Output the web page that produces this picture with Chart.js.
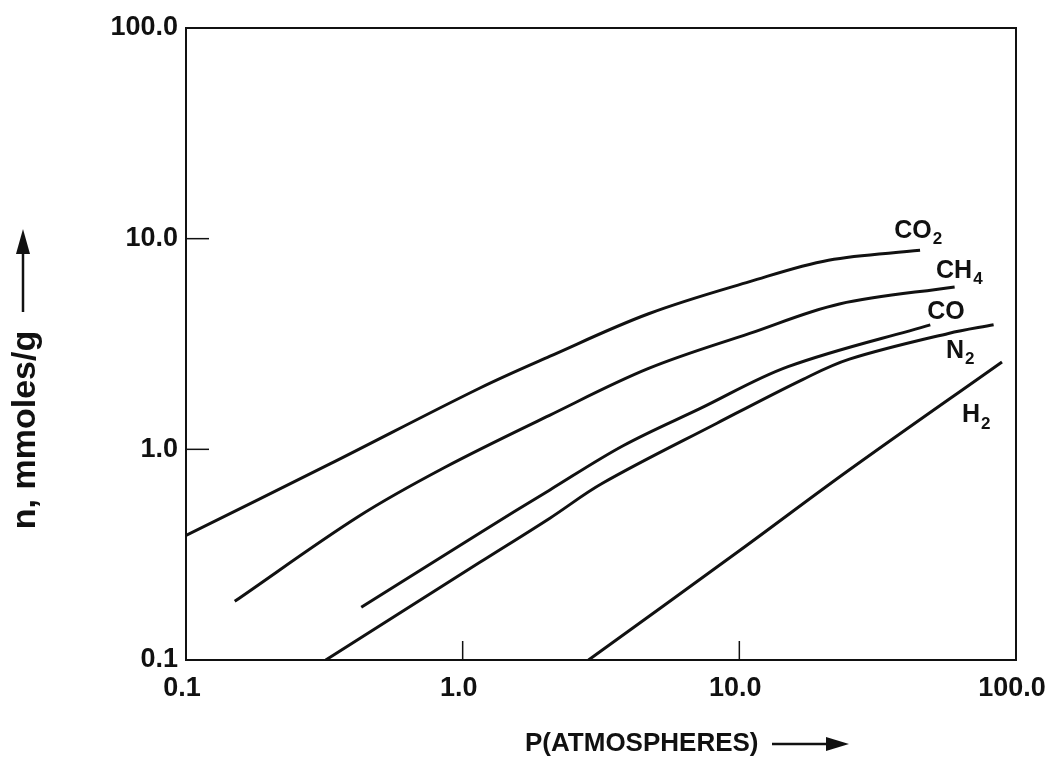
<!DOCTYPE html>
<html>
<head>
<meta charset="utf-8">
<script src="https://cdn.jsdelivr.net/npm/chart.js@4/dist/chart.umd.min.js"></script>
<style>
    body { margin: 0; background: #fff; }
    #wrap { width: 1048px; height: 757px; }
</style>
</head>
<body>
<div id="wrap"><canvas id="chart-area" width="1048" height="757"></canvas></div>
<script>
// tick values / labels
var xTicks = [0.1, 1, 10, 100];
var xTickLabels = ['0.1', '1.0', '10.0', '100.0'];
var yTicks = [0.1, 1, 10, 100];
var yTickLabels = ['0.1', '1.0', '10.0', '100.0'];

// isotherms (P in atm, n in mmoles/g)
var co2P = [0.1, 0.33, 1.15, 2.06, 4.7, 10.9, 21, 45];
var co2N = [0.39, 0.85, 1.95, 2.76, 4.4, 6.25, 7.9, 8.8];
var ch4P = [0.15, 0.42, 0.86, 2.06, 4.7, 10.9, 23, 60];
var ch4N = [0.19, 0.48, 0.82, 1.45, 2.42, 3.55, 4.9, 5.9];
var coP = [0.43, 1.15, 2.06, 3.8, 7.2, 15, 49];
var coN = [0.178, 0.40, 0.64, 1.04, 1.56, 2.47, 3.9];
var n2P = [0.32, 1.15, 2.06, 3.2, 8.3, 17, 25, 57, 83];
var n2N = [0.1, 0.29, 0.47, 0.69, 1.33, 2.15, 2.68, 3.55, 3.9];
var h2P = [2.85, 10, 25, 89];
var h2N = [0.1, 0.33, 0.8, 2.6];

// curve names: main part, subscript, and where the name sits (P, n)
var gasNames = ['CO', 'CH', 'CO', 'N', 'H'];
var gasSubs = ['2', '4', '', '2', '2'];
var nameP = [36.3, 51.4, 47.8, 55.8, 63.8];
var nameN = [10.9, 7.05, 4.46, 2.94, 1.45];

var ink = '#111';
var fontFam = '"Liberation Sans", Arial, Helvetica, sans-serif';

var toPoints = function(xs, ys) {
    var pts = [];
    for(var i = 0; i < xs.length; i++) {
        pts.push({x: xs[i], y: ys[i]});
    }
    return pts;
};

var makeSet = function(label, xs, ys) {
    return {
        label: label,
        data: toPoints(xs, ys),
        borderColor: ink,
        borderWidth: 3,
        pointRadius: 0,
        fill: false,
        tension: 0.35
    };
};

// frame, inner ticks, curve names and axis titles with arrows
var decorPlugin = {
    id: 'decor',
    afterDraw: function(chart) {
        var ctx = chart.ctx,
            xs = chart.scales.x,
            ys = chart.scales.y,
            area = chart.chartArea;

        ctx.save();
        ctx.strokeStyle = ink;
        ctx.lineWidth = 2;
        ctx.beginPath();
        ctx.moveTo(area.left, area.top);
        ctx.lineTo(area.right, area.top);
        ctx.lineTo(area.right, area.bottom);
        ctx.stroke();

        // short inward ticks at the inner decades
        ctx.lineWidth = 1.5;
        [1, 10].forEach(function(v) {
            var px = xs.getPixelForValue(v);
            ctx.beginPath();
            ctx.moveTo(px, area.bottom);
            ctx.lineTo(px, area.bottom - 19);
            ctx.stroke();
            var py = ys.getPixelForValue(v);
            ctx.beginPath();
            ctx.moveTo(area.left, py);
            ctx.lineTo(area.left + 23, py);
            ctx.stroke();
        });

        // curve names
        ctx.fillStyle = ink;
        ctx.textBaseline = 'middle';
        ctx.textAlign = 'left';
        for(var i = 0; i < gasNames.length; i++) {
            var lx = xs.getPixelForValue(nameP[i]),
                ly = ys.getPixelForValue(nameN[i]);
            ctx.font = 'bold 25px ' + fontFam;
            ctx.fillText(gasNames[i], lx, ly);
            if(gasSubs[i]) {
                var w = ctx.measureText(gasNames[i]).width;
                ctx.font = 'bold 17px ' + fontFam;
                ctx.fillText(gasSubs[i], lx + w + 1, ly + 9);
            }
        }

        // x title and arrow
        ctx.font = 'bold 26px ' + fontFam;
        ctx.textAlign = 'left';
        ctx.fillText('P(ATMOSPHERES)', 525, 744);
        ctx.lineWidth = 2.5;
        ctx.beginPath();
        ctx.moveTo(772, 744);
        ctx.lineTo(830, 744);
        ctx.stroke();
        ctx.beginPath();
        ctx.moveTo(849, 744);
        ctx.lineTo(826, 737);
        ctx.lineTo(826, 751);
        ctx.closePath();
        ctx.fill();

        // y title and arrow
        ctx.save();
        ctx.translate(26, 430);
        ctx.rotate(-Math.PI / 2);
        ctx.textAlign = 'center';
        ctx.font = 'bold 34px ' + fontFam;
        ctx.fillText('n, mmoles/g', 0, 0);
        ctx.restore();
        ctx.beginPath();
        ctx.moveTo(23, 312);
        ctx.lineTo(23, 250);
        ctx.stroke();
        ctx.beginPath();
        ctx.moveTo(23, 229);
        ctx.lineTo(16, 254);
        ctx.lineTo(30, 254);
        ctx.closePath();
        ctx.fill();
        ctx.restore();
    }
};

var config = {
    type: 'line',
    data: {
        datasets: [
            makeSet('CO2', co2P, co2N),
            makeSet('CH4', ch4P, ch4N),
            makeSet('CO', coP, coN),
            makeSet('N2', n2P, n2N),
            makeSet('H2', h2P, h2N)
        ]
    },
    options: {
        responsive: false,
        animation: false,
        layout: { padding: { top: 28, right: 32, left: 0, bottom: 0 } },
        plugins: {
            legend: { display: false },
            tooltip: { enabled: false }
        },
        scales: {
            x: {
                type: 'logarithmic',
                min: 0.1,
                max: 100,
                grid: { display: false, drawTicks: false },
                border: { display: true, color: ink, width: 2 },
                afterBuildTicks: function(scale) {
                    scale.ticks = xTicks.map(function(v) { return {value: v}; });
                },
                afterFit: function(scale) {
                    scale.height = 97;
                    scale.paddingLeft = 0;
                    scale.paddingRight = 0;
                },
                ticks: {
                    color: ink,
                    padding: 12,
                    maxRotation: 0,
                    labelOffset: -4,
                    font: { family: fontFam, size: 27, weight: 'bold' },
                    callback: function(value, index) {
                        return xTickLabels[index];
                    }
                }
            },
            y: {
                type: 'logarithmic',
                min: 0.1,
                max: 100,
                grid: { display: false, drawTicks: false },
                border: { display: true, color: ink, width: 2 },
                afterBuildTicks: function(scale) {
                    scale.ticks = yTicks.map(function(v) { return {value: v}; });
                },
                afterFit: function(scale) {
                    scale.width = 186;
                    scale.paddingTop = 0;
                    scale.paddingBottom = 0;
                },
                ticks: {
                    color: ink,
                    padding: 8,
                    font: { family: fontFam, size: 27, weight: 'bold' },
                    callback: function(value, index) {
                        return yTickLabels[index];
                    }
                }
            }
        }
    },
    plugins: [decorPlugin]
};

var ctx = document.getElementById('chart-area').getContext('2d');
window.myChart = new Chart(ctx, config);
</script>
</body>
</html>
